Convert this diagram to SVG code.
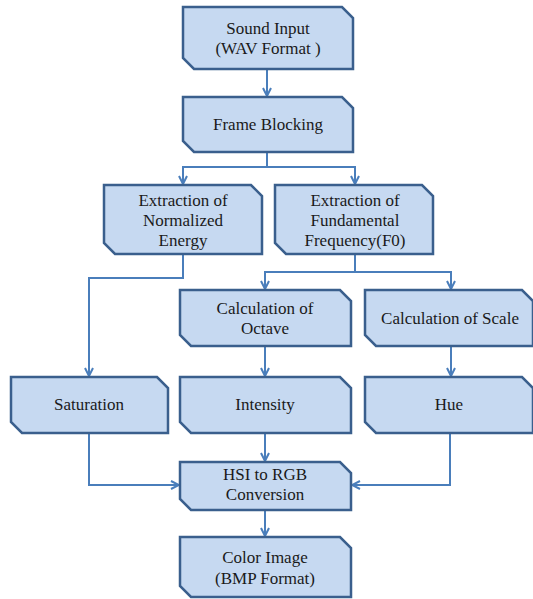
<svg xmlns="http://www.w3.org/2000/svg" width="533" height="599" viewBox="0 0 533 599">
<defs>
<style>
.box{fill:#c6d9f1;stroke:#3a5f8d;stroke-width:2.5;stroke-linejoin:miter}
.t{font-family:'Liberation Serif','DejaVu Serif',serif;font-size:17px;fill:#1a1a1a;text-anchor:middle}
.c{fill:none;stroke:#4a7ebb;stroke-width:2}
</style>
<marker id="ah" viewBox="0 0 10 10" refX="9" refY="5" markerWidth="10" markerHeight="10" markerUnits="userSpaceOnUse" orient="auto">
<path d="M1,1 L9,5 L1,9" fill="none" stroke="#4a7ebb" stroke-width="2"/>
</marker>
</defs>
<rect width="533" height="599" fill="#ffffff"/>
<g id="connectors">
<path class="c" d="M267,69 V96" marker-end="url(#ah)"/>
<path class="c" d="M267,152 V167 H183 V184" marker-end="url(#ah)"/>
<path class="c" d="M267,167 H355 V184" marker-end="url(#ah)"/>
<path class="c" d="M183,254 V278 H89 V376" marker-end="url(#ah)"/>
<path class="c" d="M355,254 V272 H265 V289" marker-end="url(#ah)"/>
<path class="c" d="M355,272 H451 V289" marker-end="url(#ah)"/>
<path class="c" d="M265,346 V376" marker-end="url(#ah)"/>
<path class="c" d="M451,346 V376" marker-end="url(#ah)"/>
<path class="c" d="M89,433 V485 H179" marker-end="url(#ah)"/>
<path class="c" d="M265,433 V461" marker-end="url(#ah)"/>
<path class="c" d="M450,433 V485 H352" marker-end="url(#ah)"/>
<path class="c" d="M265,510 V536" marker-end="url(#ah)"/>
</g>
<g id="n1">
<polygon class="box" points="183,7 342,7 353,18 353,69 194,69 183,58"/>
<text class="t" x="268" y="34" font-family="Liberation Serif, serif">Sound Input</text>
<text class="t" x="268" y="54" font-family="Liberation Serif, serif">(WAV Format )</text>
</g>
<g id="n2">
<polygon class="box" points="183,97 342,97 353,108 353,152 194,152 183,141"/>
<text class="t" x="268" y="130">Frame Blocking</text>
</g>
<g id="n3">
<polygon class="box" points="104,185 251,185 262,196 262,254 115,254 104,243"/>
<text class="t" x="183" y="206">Extraction of</text>
<text class="t" x="183" y="226">Normalized</text>
<text class="t" x="183" y="246">Energy</text>
</g>
<g id="n4">
<polygon class="box" points="275,185 422,185 433,196 433,254 286,254 275,243"/>
<text class="t" x="355" y="206">Extraction of</text>
<text class="t" x="355" y="226">Fundamental</text>
<text class="t" x="355" y="246">Frequency(F0)</text>
</g>
<g id="n5">
<polygon class="box" points="180,290 340,290 351,301 351,346 191,346 180,335"/>
<text class="t" x="265" y="314">Calculation of</text>
<text class="t" x="265" y="334">Octave</text>
</g>
<g id="n6">
<polygon class="box" points="365,290 522,290 533,301 533,346 376,346 365,335"/>
<text class="t" x="450" y="324">Calculation of Scale</text>
</g>
<g id="n7">
<polygon class="box" points="11,377 157,377 168,388 168,433 22,433 11,422"/>
<text class="t" x="89" y="410">Saturation</text>
</g>
<g id="n8">
<polygon class="box" points="180,377 340,377 351,388 351,433 191,433 180,422"/>
<text class="t" x="265" y="410">Intensity</text>
</g>
<g id="n9">
<polygon class="box" points="365,377 522,377 533,388 533,433 376,433 365,422"/>
<text class="t" x="449" y="410">Hue</text>
</g>
<g id="n10">
<polygon class="box" points="180,462 340,462 351,473 351,510 191,510 180,499"/>
<text class="t" x="265" y="480">HSI to RGB</text>
<text class="t" x="265" y="500">Conversion</text>
</g>
<g id="n11">
<polygon class="box" points="180,537 340,537 351,548 351,597 191,597 180,586"/>
<text class="t" x="265" y="563">Color Image</text>
<text class="t" x="265" y="584">(BMP Format)</text>
</g>
</svg>
